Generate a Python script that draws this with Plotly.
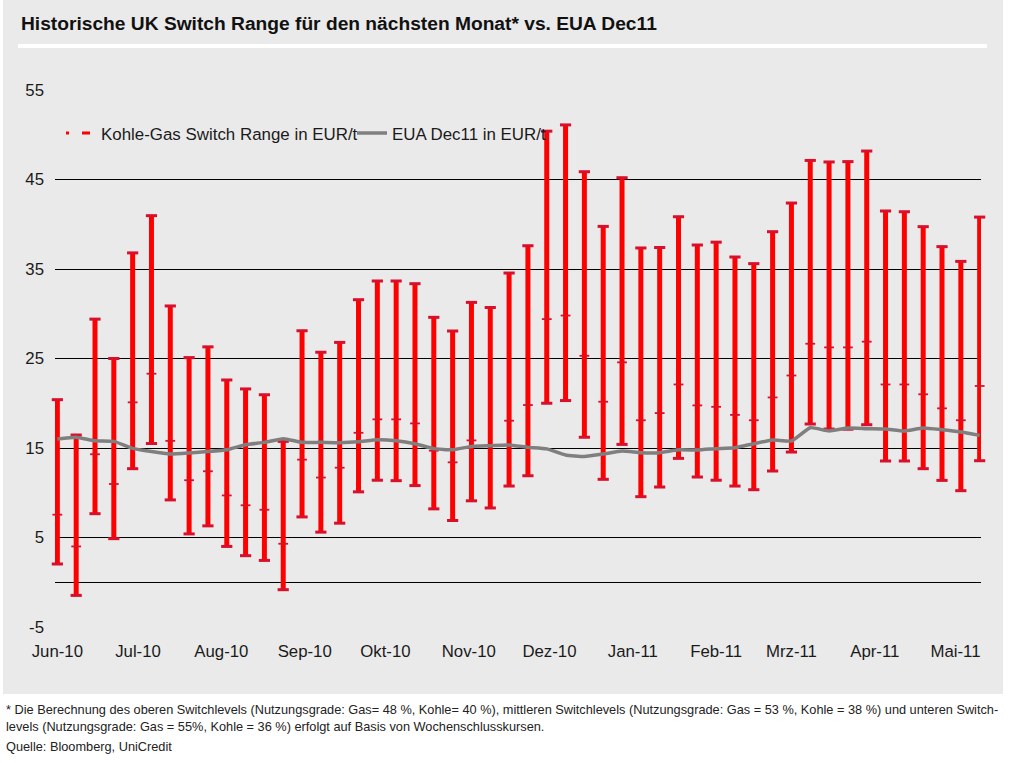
import pandas as pd
import plotly.graph_objects as go

# ---------------- data ----------------
weeks = pd.date_range("2010-06-01", periods=50, freq="7D")

switch_high = [20.4, 16.45, 29.4, 25.0, 36.8, 40.96, 30.87, 25.1, 26.3, 22.6,
               21.6, 20.95, 15.74, 28.1, 25.7, 26.8, 31.57, 33.66, 33.66, 33.36,
               29.6, 28.07, 31.27, 30.7, 34.55, 37.6, 50.4, 51.1, 45.87, 39.76,
               45.2, 37.35, 37.4, 40.84, 37.68, 38.0, 36.34, 35.6, 39.17, 42.37,
               47.13, 46.96, 47.0, 48.18, 41.48, 41.4, 39.73, 37.5, 35.85, 40.8]
switch_mid = [7.55, 4.0, 14.3, 10.98, 20.1, 23.3, 15.8, 11.4, 12.4, 9.7,
              8.6, 8.1, 4.3, 13.7, 11.7, 12.8, 16.7, 18.2, 18.2, 17.75,
              14.7, 13.4, 15.85, 15.3, 18.05, 19.8, 29.4, 29.8, 25.3, 20.17,
              24.57, 18.1, 18.9, 22.1, 19.76, 19.6, 18.7, 18.1, 20.65, 23.1,
              26.65, 26.24, 26.24, 26.88, 22.1, 22.1, 21.0, 19.43, 18.1, 21.93]
switch_low = [2.04, -1.47, 7.66, 4.87, 12.69, 15.5, 9.2, 5.4, 6.3, 4.0,
              2.97, 2.44, -0.83, 7.3, 5.6, 6.6, 10.1, 11.4, 11.35, 10.8,
              8.2, 6.9, 9.1, 8.3, 10.75, 11.9, 20.0, 20.3, 16.2, 11.5,
              15.4, 9.56, 10.64, 13.84, 11.76, 11.4, 10.75, 10.34, 12.43, 14.55,
              17.68, 17.12, 17.1, 17.6, 13.55, 13.55, 12.69, 11.38, 10.23, 13.58]
eua_dec11 = [16.0, 16.2, 15.8, 15.74, 14.96, 14.6, 14.33, 14.44, 14.6, 14.8,
             15.37, 15.63, 16.04, 15.63, 15.63, 15.6, 15.7, 15.93, 15.82, 15.48,
             14.93, 14.8, 15.18, 15.26, 15.33, 15.07, 14.9, 14.22, 14.06, 14.33,
             14.66, 14.48, 14.48, 14.8, 14.78, 14.92, 15.03, 15.48, 15.89, 15.78,
             17.27, 16.9, 17.23, 17.16, 17.12, 16.9, 17.23, 17.04, 16.79, 16.41]

month_ticks = ["2010-06-01", "2010-07-01", "2010-08-01", "2010-09-01", "2010-10-01",
               "2010-11-01", "2010-12-01", "2011-01-01", "2011-02-01", "2011-03-01",
               "2011-04-01", "2011-05-01"]
month_labels = ["Jun-10", "Jul-10", "Aug-10", "Sep-10", "Okt-10", "Nov-10",
                "Dez-10", "Jan-11", "Feb-11", "Mrz-11", "Apr-11", "Mai-11"]
y_ticks = [-5, 5, 15, 25, 35, 45, 55]
y_labels = ["-5", "5", "15", "25", "35", "45", "55"]

title_text = "Historische UK Switch Range für den nächsten Monat* vs. EUA Dec11"
foot1 = ("* Die Berechnung des oberen Switchlevels (Nutzungsgrade: Gas= 48 %, Kohle= 40 %), "
         "mittleren Switchlevels (Nutzungsgrade: Gas = 53 %, Kohle = 38 %) und unteren Switch-")
foot2 = "levels (Nutzungsgrade: Gas = 55%, Kohle = 36 %) erfolgt auf Basis von Wochenschlusskursen."
foot3 = "Quelle: Bloomberg, UniCredit"

# ---------------- layout geometry ----------------
W, H = 1009, 763
L, R, T, B = 55, 28, 90, 136
PW, PH = W - L - R, H - T - B


def px2x(px):
    return (px - L) / PW


def px2y(py):
    return (H - B - py) / PH


FONT = "Liberation Sans, Arial, Helvetica, sans-serif"
RED = "#FF0000"
TICKRED = "#D8102C"
GREY = "#7F7F7F"
TXT = "#1a1a1a"
AX_FS = 16.8

# ---------------- traces ----------------
seg_x, seg_y = [], []
for d, lo, hi in zip(weeks, switch_low, switch_high):
    seg_x += [d, d, None]
    seg_y += [lo, hi, None]

fig = go.Figure()
fig.add_trace(go.Scatter(x=seg_x, y=seg_y, mode="lines",
                         line=dict(color=RED, width=5),
                         showlegend=False, hoverinfo="skip"))
fig.add_trace(go.Scatter(x=list(weeks) * 2, y=switch_high + switch_low, mode="markers",
                         marker=dict(symbol="line-ew", size=8,
                                     line=dict(color=TICKRED, width=3)),
                         cliponaxis=False, showlegend=False))
fig.add_trace(go.Scatter(x=weeks, y=switch_mid, mode="markers",
                         marker=dict(symbol="line-ew", size=7,
                                     line=dict(color=TICKRED, width=1.8)),
                         cliponaxis=False, showlegend=False))
# legend entry for the switch range
fig.add_trace(go.Scatter(x=[None], y=[None], mode="lines",
                         name="Kohle-Gas Switch Range in EUR/t", legendwidth=246,
                         line=dict(color=RED, width=3, dash="3px,13px,8px,20px")))
fig.add_trace(go.Scatter(x=weeks, y=eua_dec11, mode="lines",
                         name="EUA Dec11 in EUR/t",
                         line=dict(color=GREY, width=3.5, shape="spline", smoothing=0.4)))

# ---------------- layout ----------------
shapes = [
    dict(type="rect", xref="paper", yref="paper", layer="below",
         x0=px2x(3), x1=px2x(1003), y0=px2y(694), y1=px2y(0),
         fillcolor="#EAEAEA", line=dict(width=0)),
    dict(type="rect", xref="paper", yref="paper", layer="below",
         x0=px2x(18), x1=px2x(987), y0=px2y(48), y1=px2y(44),
         fillcolor="#FFFFFF", line=dict(width=0)),
]

annotations = [
    dict(text="<b>" + title_text + "</b>", xref="paper", yref="paper",
         x=px2x(19), y=px2y(23.5), xanchor="left", yanchor="middle", showarrow=False,
         font=dict(family=FONT, size=19.2, color="#111111")),
    dict(text=foot1, xref="paper", yref="paper", x=px2x(4), y=px2y(709),
         xanchor="left", yanchor="middle", showarrow=False,
         font=dict(family=FONT, size=12.75, color="#222222")),
    dict(text=foot2, xref="paper", yref="paper", x=px2x(4), y=px2y(726),
         xanchor="left", yanchor="middle", showarrow=False,
         font=dict(family=FONT, size=12.75, color="#222222")),
    dict(text=foot3, xref="paper", yref="paper", x=px2x(4), y=px2y(746),
         xanchor="left", yanchor="middle", showarrow=False,
         font=dict(family=FONT, size=12.75, color="#222222")),
]

fig.update_layout(
    width=W, height=H,
    margin=dict(l=L, r=R, t=T, b=B, pad=0),
    paper_bgcolor="#FFFFFF",
    plot_bgcolor="#EAEAEA",
    font=dict(family=FONT, size=AX_FS, color=TXT),
    shapes=shapes,
    annotations=annotations,
    legend=dict(orientation="h", x=px2x(61), y=px2y(133), xanchor="left", yanchor="middle",
                bgcolor="rgba(0,0,0,0)", font=dict(family=FONT, size=16.9, color=TXT),
                itemclick=False, tracegroupgap=0),
    xaxis=dict(type="date", range=["2010-05-31 03:00", "2011-05-10 12:00"],
               tickvals=month_ticks, ticktext=month_labels,
               showgrid=False, zeroline=False, showline=False, ticks="",
               ticklabelstandoff=12, tickfont=dict(size=AX_FS)),
    yaxis=dict(range=[-5, 55], tickvals=y_ticks, ticktext=y_labels, showgrid=True,
               gridcolor="#000000", gridwidth=1, zeroline=True,
               zerolinecolor="#000000", zerolinewidth=1, showline=False, ticks="",
               ticklabelstandoff=10, tickfont=dict(size=AX_FS)),
    showlegend=True,
)

fig.write_html("out.html", config={"displayModeBar": False},
               post_script="document.body.style.margin='0';document.body.style.padding='0';")
